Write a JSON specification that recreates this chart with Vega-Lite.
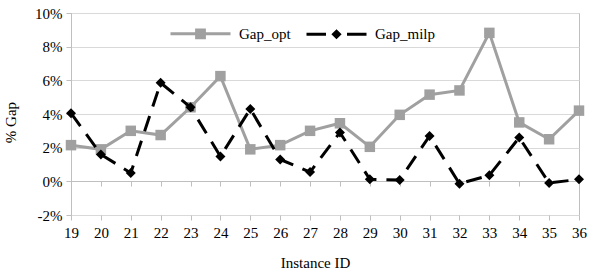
{
  "$schema": "https://vega.github.io/schema/vega-lite/v6.json",
  "width": 508,
  "height": 202,
  "autosize": {"type": "none"},
  "padding": {"left": 71, "top": 13, "right": 12, "bottom": 54},
  "config": {
    "font": "Times New Roman, Liberation Serif, serif",
    "view": {"stroke": "#bfbfbf", "strokeWidth": 1}
  },
  "data": {"values": [
    {"id": "19", "series": "Gap_opt", "gap": 2.15},
    {"id": "20", "series": "Gap_opt", "gap": 1.9},
    {"id": "21", "series": "Gap_opt", "gap": 3.0},
    {"id": "22", "series": "Gap_opt", "gap": 2.75},
    {"id": "23", "series": "Gap_opt", "gap": 4.4},
    {"id": "24", "series": "Gap_opt", "gap": 6.25},
    {"id": "25", "series": "Gap_opt", "gap": 1.9},
    {"id": "26", "series": "Gap_opt", "gap": 2.15},
    {"id": "27", "series": "Gap_opt", "gap": 3.0},
    {"id": "28", "series": "Gap_opt", "gap": 3.45},
    {"id": "29", "series": "Gap_opt", "gap": 2.05},
    {"id": "30", "series": "Gap_opt", "gap": 3.95},
    {"id": "31", "series": "Gap_opt", "gap": 5.15},
    {"id": "32", "series": "Gap_opt", "gap": 5.4},
    {"id": "33", "series": "Gap_opt", "gap": 8.82},
    {"id": "34", "series": "Gap_opt", "gap": 3.5},
    {"id": "35", "series": "Gap_opt", "gap": 2.5},
    {"id": "36", "series": "Gap_opt", "gap": 4.2},
    {"id": "19", "series": "Gap_milp", "gap": 4.05},
    {"id": "20", "series": "Gap_milp", "gap": 1.6},
    {"id": "21", "series": "Gap_milp", "gap": 0.5},
    {"id": "22", "series": "Gap_milp", "gap": 5.85},
    {"id": "23", "series": "Gap_milp", "gap": 4.4},
    {"id": "24", "series": "Gap_milp", "gap": 1.48},
    {"id": "25", "series": "Gap_milp", "gap": 4.3},
    {"id": "26", "series": "Gap_milp", "gap": 1.3},
    {"id": "27", "series": "Gap_milp", "gap": 0.55},
    {"id": "28", "series": "Gap_milp", "gap": 2.9},
    {"id": "29", "series": "Gap_milp", "gap": 0.12},
    {"id": "30", "series": "Gap_milp", "gap": 0.08},
    {"id": "31", "series": "Gap_milp", "gap": 2.7},
    {"id": "32", "series": "Gap_milp", "gap": -0.14},
    {"id": "33", "series": "Gap_milp", "gap": 0.36},
    {"id": "34", "series": "Gap_milp", "gap": 2.6},
    {"id": "35", "series": "Gap_milp", "gap": -0.1},
    {"id": "36", "series": "Gap_milp", "gap": 0.12}
  ]},
  "encoding": {
    "y": {"field": "gap", "type": "quantitative", "scale": {"domain": [-2, 10], "nice": false, "zero": false},
      "axis": {"title": "% Gap", "values": [-2, 0, 2, 4, 6, 8, 10], "labelExpr": "datum.value + '%'", "labelOverlap": false, "labelFont": "Times New Roman, Liberation Serif, serif", "labelFontSize": 15, "labelColor": "#000", "titleFont": "Times New Roman, Liberation Serif, serif", "titleFontSize": 15, "titleFontWeight": "normal", "titleColor": "#000", "domainColor": "#bfbfbf", "tickColor": "#bfbfbf", "tickSize": 5, "labelPadding": 4, "grid": true, "gridColor": "#d9d9d9", "titleX": -56, "titleY": 109, "titleBaseline": "alphabetic"}}
  },
  "resolve": {"axis": {"x": "independent"}},
  "layer": [
    {
      "mark": {"type": "line", "strokeWidth": 3},
      "transform": [{"filter": {"field": "series", "equal": "Gap_opt"}}],
      "encoding": {
        "x": {"field": "id", "type": "ordinal", "scale": {"type": "point", "padding": 0}, "axis": {"orient": "bottom", "title": "Instance ID", "labelAngle": 0, "labelPadding": 5, "tickSize": 5, "tickColor": "#bfbfbf", "grid": false, "domain": false, "labelFont": "Times New Roman, Liberation Serif, serif", "labelFontSize": 15, "labelColor": "#000", "titleFont": "Times New Roman, Liberation Serif, serif", "titleFontSize": 15, "titleFontWeight": "normal", "titleColor": "#000", "titleX": 244, "titleY": 52, "titleBaseline": "alphabetic"}},
        "color": {"field": "series", "type": "nominal", "scale": {"domain": ["Gap_opt", "Gap_milp"], "range": ["#a0a0a0", "#000000"]},
          "legend": {"orient": "none", "legendX": 98, "legendY": -11, "direction": "horizontal", "title": null, "padding": 0, "symbolSize": 3600, "symbolStrokeWidth": 3, "labelFont": "Times New Roman, Liberation Serif, serif", "labelFontSize": 15, "labelColor": "#000", "labelOffset": 7, "columnPadding": 9,
            "encode": {"symbols": {"update": {
              "shape": {"signal": "datum.value === 'Gap_opt' ? 'M-1,0H1M-0.13,-0.13H0.13V0.13H-0.13Z' : 'M-1,0H-0.35M0.35,0H1M0,-0.1L0.1,0L0,0.1L-0.1,0Z'"},
              "fill": {"signal": "datum.value === 'Gap_opt' ? '#a0a0a0' : '#000000'"},
              "stroke": {"signal": "datum.value === 'Gap_opt' ? '#a0a0a0' : '#000000'"},
              "strokeDash": {"value": []}
            }}}}}
      }
    },
    {
      "mark": {"type": "point", "shape": "square", "filled": true, "size": 110, "opacity": 1},
      "transform": [{"filter": {"field": "series", "equal": "Gap_opt"}}],
      "encoding": {
        "x": {"field": "id", "type": "ordinal", "axis": null},
        "color": {"field": "series", "type": "nominal"}
      }
    },
    {
      "mark": {"type": "line", "strokeWidth": 3, "strokeDash": [16, 10]},
      "transform": [{"filter": {"field": "series", "equal": "Gap_milp"}}],
      "encoding": {
        "x": {"field": "id", "type": "ordinal", "axis": {"orient": "bottom", "offset": -34, "labels": false, "title": null, "tickSize": 5, "tickColor": "#bfbfbf", "domainColor": "#bfbfbf", "grid": false, "domain": true}},
        "color": {"field": "series", "type": "nominal"}
      }
    },
    {
      "mark": {"type": "point", "shape": "diamond", "filled": true, "size": 100, "opacity": 1},
      "transform": [{"filter": {"field": "series", "equal": "Gap_milp"}}],
      "encoding": {
        "x": {"field": "id", "type": "ordinal", "axis": null},
        "color": {"field": "series", "type": "nominal"}
      }
    }
  ]
}
